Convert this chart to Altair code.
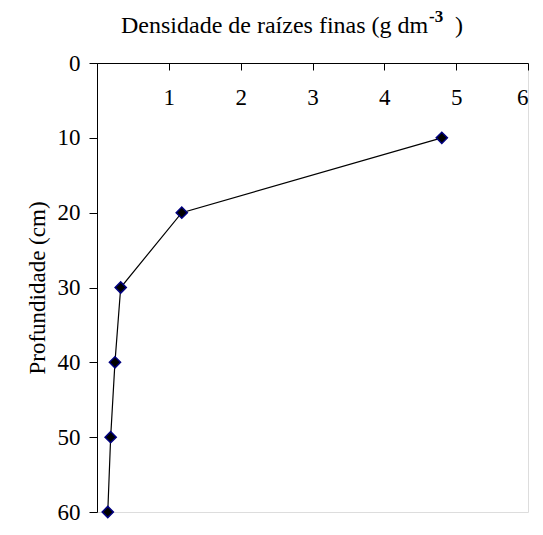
import altair as alt
import pandas as pd

depth = [10, 20, 30, 40, 50, 60]
density = [4.8, 1.18, 0.33, 0.25, 0.19, 0.15]
x_ticks = [0, 1, 2, 3, 4, 5, 6]
y_ticks = [0, 10, 20, 30, 40, 50, 60]
title_main = "Densidade de raízes finas (g dm"
title_sup = "-3"
title_end = ")"
y_title = "Profundidade (cm)"

df = pd.DataFrame({"densidade": density, "profundidade": depth})

W, H = 431, 449
FONT = "Liberation Serif"

x_enc = alt.X("densidade:Q",
              scale=alt.Scale(domain=[0, 6], nice=False, zero=True),
              axis=alt.Axis(orient="bottom", offset=-H, values=x_ticks, format="d",
                            labelExpr="datum.value == 0 ? '' : datum.label",
                            title=None, grid=False, tickSize=7, labelPadding=16,
                            labelFont=FONT, labelFontSize=23, labelColor="black",
                            domainColor="black", tickColor="black"))
y_enc = alt.Y("profundidade:Q",
              scale=alt.Scale(domain=[0, 60], reverse=True, nice=False),
              axis=alt.Axis(values=y_ticks, format="d", title=y_title, grid=False,
                            tickSize=8, labelPadding=9, labelFont=FONT,
                            labelFontSize=23, labelColor="black", titleFont=FONT,
                            titleFontSize=23, titleFontWeight="normal",
                            titleColor="black", titlePadding=8,
                            domainColor="black", tickColor="black"))

line = alt.Chart(df).mark_line(color="black", strokeWidth=1.2).encode(
    x=x_enc, y=y_enc, order="profundidade:Q")
pts = alt.Chart(df).mark_point(shape="diamond", filled=True, fill="black",
                               stroke="#000080", strokeWidth=1.5, size=125,
                               opacity=1).encode(x="densidade:Q", y="profundidade:Q")

tdf = pd.DataFrame({"a": [0]})
t1 = alt.Chart(tdf).mark_text(text=title_main, font=FONT, fontSize=24, align="left",
                              baseline="alphabetic", color="black").encode(
    x=alt.value(24), y=alt.value(-30))
t2 = alt.Chart(tdf).mark_text(text=title_sup, font=FONT, fontSize=17, fontWeight="bold",
                              align="left", baseline="alphabetic", color="black").encode(
    x=alt.value(332), y=alt.value(-41))
t3 = alt.Chart(tdf).mark_text(text=title_end, font=FONT, fontSize=24, align="left",
                              baseline="alphabetic", color="black").encode(
    x=alt.value(358), y=alt.value(-30))

chart = alt.layer(line, pts, t1, t2, t3).properties(
    width=W, height=H,
    autosize=alt.AutoSizeParams(type="none"),
    padding={"left": 89, "top": 55, "right": 7, "bottom": 15},
).configure_view(stroke=None).configure(background="white")

chart.save("out.html", embed_options={"renderer": "svg", "actions": False})
